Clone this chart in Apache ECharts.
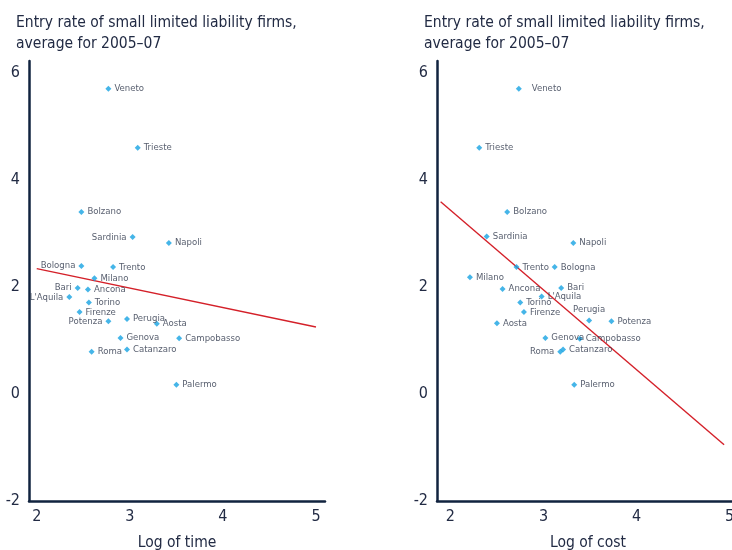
<!DOCTYPE html>
<html>
<head>
<meta charset="utf-8">
<script src="https://cdn.jsdelivr.net/npm/echarts@6/dist/echarts.min.js"></script>
<style>
  html, body { margin: 0; padding: 0; background: #ffffff; }
  #chart { width: 732px; height: 550px; }
</style>
</head>
<body>
<div id="chart"></div>
<script>
// ---- Data ----
const titleText = "Entry rate of small limited liability firms,\naverage for 2005\u201307";
const leftAxisName = "Log of time";
const rightAxisName = "Log of cost";
const yTickLabels = [-2, 0, 2, 4, 6];
const xTickLabels = [2, 3, 4, 5];

const regions = ["Veneto","Trieste","Bolzano","Sardinia","Napoli","Bologna","Trento","Milano","Bari","Ancona","L'Aquila","Torino","Firenze","Potenza","Perugia","Aosta","Genova","Campobasso","Catanzaro","Roma","Palermo"];
const entryRate = [5.70, 4.60, 3.40, 2.93, 2.82, 2.39, 2.37, 2.16, 1.98, 1.95, 1.81, 1.71, 1.53, 1.36, 1.40, 1.31, 1.045, 1.04, 0.83, 0.79, 0.17];
// entry rate as read on the right panel (same regions)
const entryRateR = [5.70, 4.60, 3.40, 2.94, 2.82, 2.37, 2.37, 2.18, 1.98, 1.96, 1.82, 1.71, 1.53, 1.36, 1.37, 1.32, 1.045, 1.03, 0.83, 0.79, 0.17];
const logTime = [2.77, 3.085, 2.48, 3.03, 3.42, 2.48, 2.82, 2.62, 2.44, 2.55, 2.35, 2.56, 2.46, 2.77, 2.97, 3.29, 2.90, 3.53, 2.97, 2.59, 3.50];
const logCost = [2.735, 2.31, 2.61, 2.39, 3.32, 3.12, 2.71, 2.21, 3.19, 2.56, 2.98, 2.75, 2.79, 3.73, 3.49, 2.50, 3.02, 3.39, 3.21, 3.18, 3.33];

const fitTime = [[2.0, 2.34], [5.0, 1.25]];
const fitCost = [[1.895, 3.59], [4.94, -0.95]];

// label placement (style)
const leftPlace = { "Bologna": "left", "Bari": "left", "L'Aquila": "left", "Sardinia": "left", "Potenza": "left" };
const rightPlace = { "Roma": "left", "Perugia": "top" };

// ---- Styles ----
const FONT = "'Liberation Sans Narrow', 'DejaVu Sans Condensed', 'Liberation Sans', sans-serif";
const NAVY = "#11233f";
const TEXT = "#222b44";
const LBL = "#2c3448";
const POINT = "#17a2e2";
const RED = "#d42029";

function pts(xs, ys, place, extra) {
  return regions.map((n, i) => {
    const lab = Object.assign({ position: place[n] || 'right' }, (extra && extra[n]) || {});
    return { name: n, value: [xs[i], ys[i]], label: lab };
  });
}

function xAxisCfg(idx, min, max, name) {
  return {
    gridIndex: idx, type: 'value', min: min, max: max,
    name: name, nameLocation: 'middle', nameGap: 34,
    nameTextStyle: { fontFamily: FONT, fontSize: 15.5, color: TEXT },
    axisLine: { show: true, onZero: false, lineStyle: { color: NAVY, width: 2.5 } },
    axisTick: { show: false }, splitLine: { show: false },
    axisLabel: {
      fontFamily: FONT, fontSize: 16, color: TEXT, margin: 8,
      showMinLabel: true, showMaxLabel: true,
      formatter: v => xTickLabels.some(t => Math.abs(t - v) < 1e-6) ? String(Math.round(v)) : ''
    }
  };
}
function yAxisCfg(idx) {
  return {
    gridIndex: idx, type: 'value', min: -2, max: 6.22,
    axisLine: { show: true, onZero: false, lineStyle: { color: NAVY, width: 2.5 } },
    axisTick: { show: false }, splitLine: { show: false },
    axisLabel: {
      fontFamily: FONT, fontSize: 16, color: TEXT, margin: 9,
      formatter: v => yTickLabels.some(t => Math.abs(t - v) < 1e-6) ? String(Math.round(v)) : ''
    }
  };
}
function scatter(idx, data) {
  return {
    type: 'scatter', xAxisIndex: idx, yAxisIndex: idx,
    symbol: 'diamond', symbolSize: 6, itemStyle: { color: POINT },
    data: data, z: 3,
    label: { show: true, formatter: p => p.name, fontFamily: FONT, fontSize: 9.5, color: LBL, distance: 3 },
    labelLayout: { hideOverlap: false }
  };
}
function fit(idx, data) {
  return {
    type: 'line', xAxisIndex: idx, yAxisIndex: idx, data: data,
    symbol: 'none', lineStyle: { color: RED, width: 1.4 }, z: 2, silent: true
  };
}

const chart = echarts.init(document.getElementById('chart'), null, { renderer: 'canvas' });
chart.setOption({
  animation: false,
  backgroundColor: '#ffffff',
  title: [
    { text: titleText, left: 11, top: 7, textStyle: { fontFamily: FONT, fontSize: 15.5, fontWeight: 'normal', color: TEXT, lineHeight: 21 } },
    { text: titleText, left: 419, top: 7, textStyle: { fontFamily: FONT, fontSize: 15.5, fontWeight: 'normal', color: TEXT, lineHeight: 21 } }
  ],
  grid: [
    { left: 29, width: 296, top: 61, height: 440, containLabel: false, outerBoundsMode: 'none' },
    { left: 437, width: 302, top: 61, height: 440, containLabel: false, outerBoundsMode: 'none' }
  ],
  xAxis: [ xAxisCfg(0, 1.917, 5.097, leftAxisName), xAxisCfg(1, 1.856, 5.1, rightAxisName) ],
  yAxis: [ yAxisCfg(0), yAxisCfg(1) ],
  series: [
    fit(0, fitTime),
    scatter(0, pts(logTime, entryRate, leftPlace)),
    fit(1, fitCost),
    scatter(1, pts(logCost, entryRateR, rightPlace, { "Veneto": { distance: 10, offset: [0, -3] } }))
  ]
});
</script>
</body>
</html>
